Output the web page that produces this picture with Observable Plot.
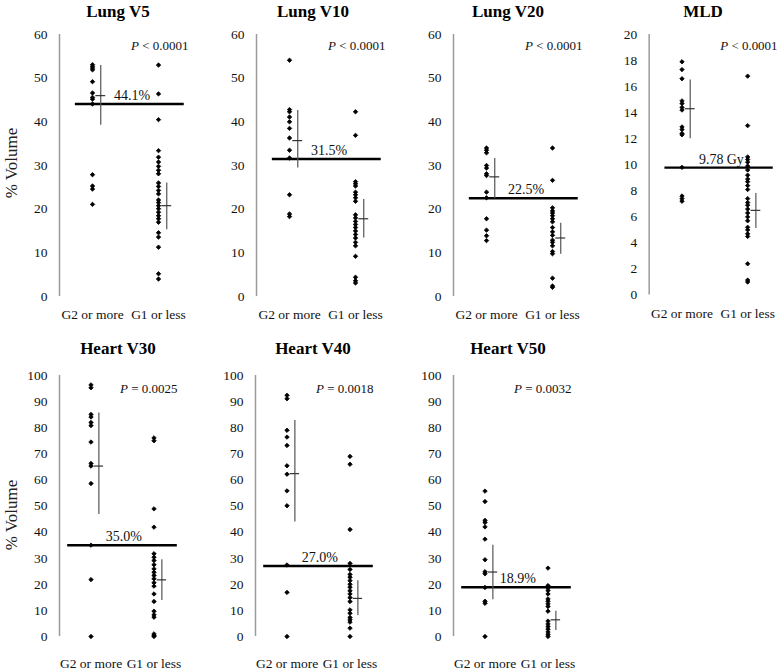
<!DOCTYPE html>
<html>
<head>
<meta charset="utf-8">
<script src="https://cdn.jsdelivr.net/npm/d3@7"></script>
<script src="https://cdn.jsdelivr.net/npm/@observablehq/plot@0.6"></script>
<style>
  html, body { margin: 0; padding: 0; background: #fff; overflow: hidden; }
  #root { position: relative; width: 780px; height: 672px; background: #fff; font-family: "Liberation Serif", "Times New Roman", Times, serif; color: #000; }
  .panel { position: absolute; }
  .ptitle { position: absolute; transform: translate(-50%, -50%); font-weight: bold; font-size: 17px; white-space: nowrap; }
  .ylab { position: absolute; transform: translate(-50%, -50%) rotate(-90deg); font-size: 17px; white-space: nowrap; color: #222; }
  .panel svg { position: absolute; left: 0; }
</style>
</head>
<body>
<div id="root"></div>
<script>
// ---------- data ----------
const groups = ["G2 or more", "G1 or less"];
const titles = ["Lung V5", "Lung V10", "Lung V20", "MLD", "Heart V30", "Heart V40", "Heart V50"];
const thresholds = [44.1, 31.5, 22.5, 9.78, 35.0, 27.0, 18.9];
const thresholdLabels = ["44.1%", "31.5%", "22.5%", "9.78 Gy", "35.0%", "27.0%", "18.9%"];
const pValues = ["P < 0.0001", "P < 0.0001", "P < 0.0001", "P < 0.0001", "P = 0.0025", "P = 0.0018", "P = 0.0032"];
const yMax = [60, 60, 60, 20, 100, 100, 100];
const yStep = [10, 10, 10, 2, 10, 10, 10];
const yLabel = "% Volume";

const lungV5_G2 = [53.1, 52.7, 52.3, 51.9, 49.2, 46.6, 45.6, 45.2, 44.1, 27.9, 25.3, 24.6, 21.1];
const lungV5_G1 = [53.0, 46.4, 40.5, 33.4, 31.9, 30.8, 29.8, 28.9, 28.1, 26.0, 25.2, 24.3, 23.5, 22.1, 21.5, 20.8, 20.1, 19.3, 18.5, 17.8, 17.0, 14.6, 13.6, 11.3, 5.2, 4.0];
const lungV10_G2 = [54.1, 42.8, 42.3, 41.1, 40.0, 38.5, 36.3, 33.5, 31.7, 23.3, 18.9, 18.3];
const lungV10_G1 = [42.3, 36.9, 26.3, 25.8, 25.3, 23.9, 23.3, 22.6, 21.8, 18.7, 18.0, 17.2, 16.5, 15.8, 15.0, 14.2, 13.4, 12.4, 11.6, 9.2, 4.4, 3.6, 3.1];
const lungV20_G2 = [34.0, 33.5, 32.9, 30.0, 29.4, 28.1, 27.7, 23.9, 22.6, 17.8, 15.2, 13.9, 12.8];
const lungV20_G1 = [34.0, 26.6, 20.3, 19.6, 19.1, 18.5, 17.8, 17.1, 15.8, 14.8, 14.0, 12.9, 12.4, 11.6, 10.3, 9.8, 4.2, 2.4, 2.1];
const mld_G2 = [17.9, 17.3, 16.6, 14.9, 14.7, 14.4, 14.2, 12.9, 12.7, 12.4, 12.3, 9.8, 7.6, 7.4, 7.2];
const mld_G1 = [16.8, 13.0, 10.6, 10.4, 10.2, 9.9, 9.6, 9.2, 8.9, 8.7, 8.4, 8.1, 7.4, 7.1, 6.9, 6.6, 6.3, 6.0, 5.7, 5.2, 5.0, 4.7, 4.5, 2.4, 1.15, 1.0];
const heartV30_G2 = [96.4, 95.3, 85.1, 84.1, 82.0, 80.8, 74.5, 66.3, 65.3, 58.6, 35.0, 21.8, 0];
const heartV30_G1 = [76.1, 75.0, 48.9, 41.9, 31.7, 30.4, 29.1, 27.5, 25.9, 24.6, 23.4, 22.1, 20.6, 19.3, 16.3, 13.4, 9.7, 8.3, 7.4, 1.0, 0.4, 0];
const heartV40_G2 = [92.4, 91.1, 79.0, 76.4, 73.2, 65.4, 62.2, 55.8, 50.1, 27.4, 16.9, 0];
const heartV40_G1 = [69.0, 66.0, 41.0, 28.0, 25.7, 23.8, 22.7, 21.4, 20.0, 18.9, 17.5, 16.3, 14.9, 13.4, 10.2, 8.9, 7.3, 6.4, 5.5, 3.2, 0];
const heartV50_G2 = [55.7, 51.7, 44.5, 43.7, 42.0, 37.3, 29.4, 24.8, 24.0, 18.8, 13.5, 12.7, 0];
const heartV50_G1 = [26.2, 19.5, 18.6, 17.6, 16.3, 14.4, 13.5, 12.5, 11.5, 9.7, 5.9, 4.8, 3.8, 2.8, 1.7, 0.8, 0];

// summary marker (centre) and its vertical bar (low..high), per panel: [G2, G1]
const summaryCenter = [[46.0, 20.8], [35.7, 17.8], [27.4, 13.4], [14.3, 6.5], [65.3, 21.7], [62.4, 14.6], [24.7, 6.4]];
const summaryLow    = [[39.2, 15.3], [29.4, 13.4], [22.4, 9.7], [12.0, 5.1], [46.7, 13.8], [43.9, 8.0], [14.1, 2.3]];
const summaryHigh   = [[52.9, 26.0], [42.6, 22.2], [31.6, 16.8], [16.5, 7.8], [85.6, 29.4], [82.8, 21.4], [35.0, 9.7]];

const pointSets = [
  [lungV5_G2, lungV5_G1], [lungV10_G2, lungV10_G1], [lungV20_G2, lungV20_G1], [mld_G2, mld_G1],
  [heartV30_G2, heartV30_G1], [heartV40_G2, heartV40_G1], [heartV50_G2, heartV50_G1]
];

// ---------- layout ----------
const layout = [
  {left: 0,   row: 0, ml: 59}, {left: 195, row: 0, ml: 61}, {left: 390, row: 0, ml: 63}, {left: 585, row: 0, ml: 64},
  {left: 0,   row: 1, ml: 59}, {left: 195, row: 1, ml: 60}, {left: 390, row: 1, ml: 63}
];
const rows = [
  {top: 0,   svgTop: 20,  mt: 14, frameH: 262, mb: 34, ppu: 66, titleY: 12,  pad: 13, pdx: -3, pdy: 11, thrX1: 0.74, thrX2: 2.39, labX: 1.6},
  {top: 335, svgTop: 25,  mt: 15, frameH: 261, mb: 36, ppu: 63, titleY: 14,  pad: 22, pdx: -8, pdy: 13, thrX1: 0.63, thrX2: 2.37, labX: 1.52}
];

const root = document.getElementById("root");

// y labels
[[12, 163], [12, 515]].forEach(([x, y]) => {
  const d = document.createElement("div");
  d.className = "ylab";
  d.style.left = x + "px"; d.style.top = y + "px";
  d.textContent = yLabel;
  root.appendChild(d);
});

titles.forEach((title, i) => {
  const L = layout[i], R = rows[L.row];
  const panel = document.createElement("div");
  panel.className = "panel";
  panel.style.left = L.left + "px";
  panel.style.top = R.top + "px";
  panel.style.width = "195px";
  panel.style.height = (L.row === 0 ? 335 : 337) + "px";
  root.appendChild(panel);

  const t = document.createElement("div");
  t.className = "ptitle";
  t.style.left = "118px";
  t.style.top = R.titleY + "px";
  t.textContent = title;
  panel.appendChild(t);

  const fw = 2 * R.ppu;
  const mr = Math.max(0, 195 - L.ml - fw);
  const width = L.ml + fw + mr;
  const height = R.mt + R.frameH + R.mb;

  const pts = [];
  pointSets[i].forEach((arr, g) => arr.forEach(v => pts.push({x: g + 1, y: v})));
  const summ = groups.map((g, k) => ({
    x: k + 1 + 0.125, c: summaryCenter[i][k], lo: summaryLow[i][k], hi: summaryHigh[i][k]
  }));

  const svg = Plot.plot({
    width, height,
    marginLeft: L.ml, marginRight: mr, marginTop: R.mt, marginBottom: R.mb,
    style: {fontFamily: "'Liberation Serif', 'Times New Roman', Times, serif", fontSize: "13.5px", color: "#000", background: "transparent", overflow: "visible"},
    x: {domain: [0.5, 2.5]},
    y: {domain: [0, yMax[i]]},
    marks: [
      Plot.ruleX([0.5], {y1: 0, y2: yMax[i], stroke: "#9a9a9a", strokeWidth: 1.5}),
      Plot.axisY({ticks: d3.range(0, yMax[i] + yStep[i] / 2, yStep[i]), tickSize: 0, tickPadding: 12, label: null, fill: "#111"}),
      Plot.axisX({ticks: [1, 2], tickFormat: d => groups[d - 1], tickSize: 0, tickPadding: R.pad, label: null, fill: "#111"}),
      Plot.ruleY([thresholds[i]], {x1: R.thrX1, x2: R.thrX2, stroke: "#000", strokeWidth: 2.5}),
      Plot.text([thresholdLabels[i]], {x: R.labX, y: thresholds[i], text: d => d, lineAnchor: "bottom", dy: -4, fontSize: 14, fill: "#111"}),
      Plot.ruleX(summ, {x: "x", y1: "lo", y2: "hi", stroke: "#555", strokeWidth: 1.2}),
      Plot.ruleY(summ, {y: "c", x1: d => d.x - 0.075, x2: d => d.x + 0.075, stroke: "#333", strokeWidth: 1.2}),
      Plot.dot(pts, {x: "x", y: "y", symbol: "diamond2", r: 2, fill: "#000", stroke: "#000", strokeWidth: 0.8}),
      Plot.text([pValues[i]], {frameAnchor: "top-right", text: d => d, textAnchor: "end", lineAnchor: "middle", dx: R.pdx, dy: R.pdy, fontSize: 13, fill: "#111"})
    ]
  });
  svg.style.top = R.svgTop + "px";
  // italicise the leading "P" of the p-value text
  d3.select(svg).selectAll("text").filter(function () { return this.textContent === pValues[i]; }).each(function () {
    const rest = this.textContent.slice(1);
    const sel = d3.select(this);
    sel.text(null);
    sel.append("tspan").attr("font-style", "italic").text("P");
    sel.append("tspan").text(rest);
  });
  panel.appendChild(svg);
});
</script>
</body>
</html>
